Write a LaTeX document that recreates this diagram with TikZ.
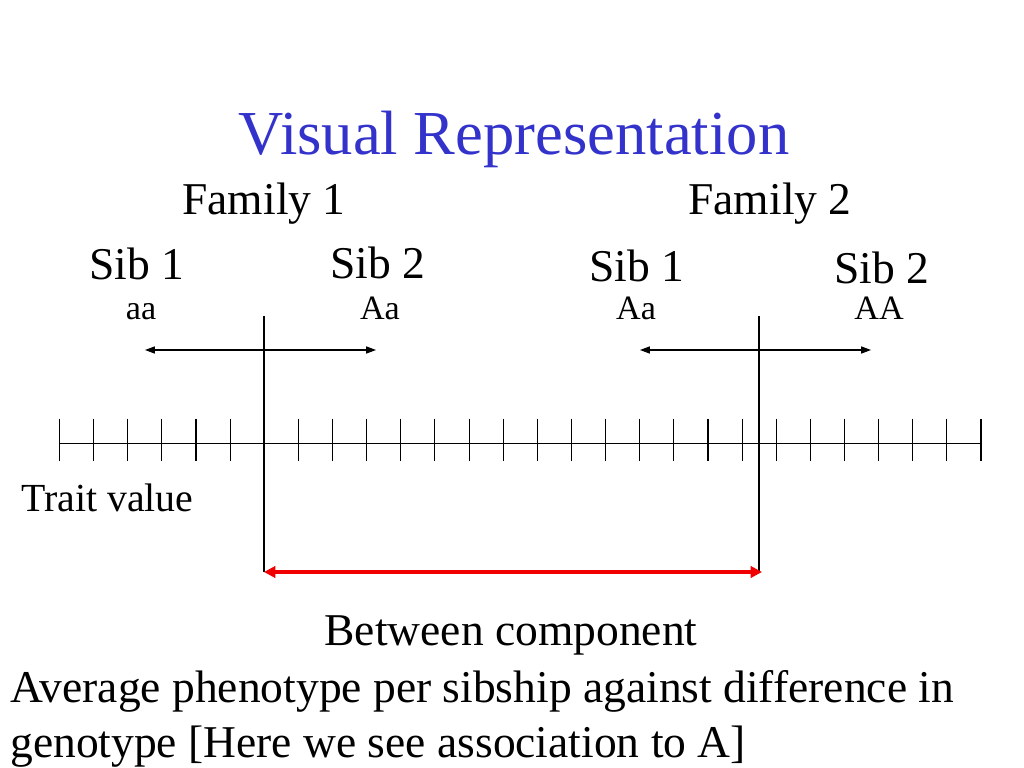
\documentclass[tikz,border=0pt]{standalone}
\usepackage{fontspec}
\setmainfont{Liberation Serif}
\usetikzlibrary{arrows.meta,calc}
\definecolor{titleblue}{RGB}{51,51,204}
\definecolor{arrred}{RGB}{240,0,0}
\tikzset{
  px/.style={x=0.703125pt,y=-0.703125pt},
  ttl/.style={inner sep=0pt,anchor=base,text=titleblue,font=\fontsize{44}{52}\selectfont},
  fam/.style={inner sep=0pt,anchor=base,font=\fontsize{32}{38}\selectfont},
  sib/.style={inner sep=0pt,anchor=base,font=\fontsize{32}{38}\selectfont},
  geno/.style={inner sep=0pt,anchor=base,font=\fontsize{24}{29}\selectfont},
  body/.style={inner sep=0pt,anchor=base west,font=\fontsize{32}{38}\selectfont},
  thin/.style={line width=0.75pt,black},
  sibarrow/.style={line width=0.75pt,{Triangle[length=7pt,width=5pt]}-{Triangle[length=7pt,width=5pt]}},
  redarrow/.style={line width=2.4pt,arrred,{Triangle[length=8pt,width=8pt]}-{Triangle[length=8pt,width=8pt]}}
}
\begin{document}
\begin{tikzpicture}[px]
\useasboundingbox[fill=white] (0,0) rectangle (1024,768);
% title
\node[ttl] (title) at (514,155) {Visual Representation};
% families
\node[fam] (fam1) at (264,215) {Family 1};
\node[fam] (fam2) at (770,215) {Family 2};
% sibs
\node[sib] (s11) at (137,280) {Sib 1};
\node[sib] (s12) at (378,279) {Sib 2};
\node[sib] (s21) at (637,282) {Sib 1};
\node[sib] (s22) at (882,283) {Sib 2};
% genotypes
\node[geno] (g11) at (141,320) {aa};
\node[geno] (g12) at (380,320) {Aa};
\node[geno] (g21) at (636,320) {Aa};
\node[geno] (g22) at (879,320) {AA};
% axis
\coordinate (axL) at (59.5,443.5);
\coordinate (axR) at (981,443.5);
\draw[thin] (axL) -- (axR);
\foreach \i in {0,...,27} {
  \draw[thin] ($(axL)+(\i*34.13,-25)$) -- ($(axL)+(\i*34.13,17)$);
}
% vertical mean lines
\coordinate (m1t) at (264,316);
\coordinate (m1b) at (264,572);
\coordinate (m2t) at (759,316);
\coordinate (m2b) at (759,572);
\draw[thin] (m1t) -- (m1b);
\draw[thin] (m2t) -- (m2b);
% sib arrows
\coordinate (a1l) at (145,350);
\coordinate (a1r) at (376,350);
\coordinate (a2l) at (640,350);
\coordinate (a2r) at (871,350);
\draw[sibarrow] (a1l) -- (a1r);
\draw[sibarrow] (a2l) -- (a2r);
% between arrow
\coordinate (redR) at (762,572);
\draw[redarrow] (m1b) -- (redR);
% labels
\node[body] (trait) at (21,511) {\fontsize{28}{34}\selectfont Trait value};
\node[inner sep=0pt,anchor=base,font=\fontsize{32}{38}\selectfont] (between) at (511,645) {Between component};
\node[body] (avg) at (10,702) {Average phenotype per sibship against difference in};
\node[body] (geno) at (10,757) {genotype [Here we see association to A]};
\end{tikzpicture}
\end{document}
